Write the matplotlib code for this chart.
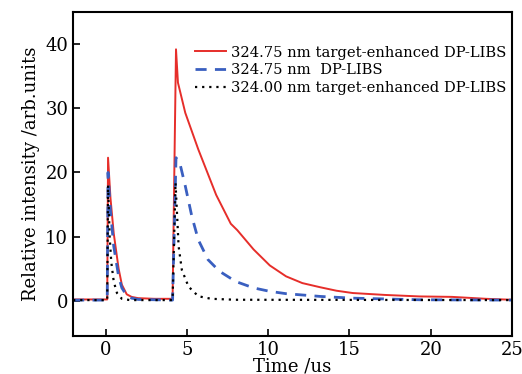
import matplotlib
matplotlib.use('Agg')
from matplotlib import pyplot as plt

# values
red_t = [-2, 0.1, 0.15, 0.3, 0.5, 0.8, 1.0, 1.3, 1.6, 2.0, 3.0, 4.12, 4.33, 4.45, 4.9, 5.7,
         6.8, 7.7, 8.1, 9.1, 10.1, 11.1, 12.1, 13.2, 14.2, 15.2, 17.2, 19.3, 21.3, 23.4, 25]
red_i = [0.2, 0.2, 22.3, 16.0, 10.5, 5.0, 2.5, 1.0, 0.6, 0.4, 0.3, 0.3, 39.2, 34.0, 29.3, 23.6,
         16.5, 12.0, 11.0, 8.0, 5.5, 3.8, 2.75, 2.1, 1.56, 1.2, 0.9, 0.67, 0.6, 0.3, 0.15]

blue_t = [-2, 0.1, 0.15, 0.3, 0.5, 0.8, 1.0, 1.3, 1.6, 2.0, 4.12, 4.33, 4.59, 4.9, 5.3, 5.7,
          6.3, 7.0, 8.0, 9.1, 10.1, 11.1, 13.2, 15.2, 19.3, 25]
blue_i = [0.1, 0.1, 20.0, 14.0, 8.5, 3.8, 2.0, 0.8, 0.4, 0.2, 0.1, 22.3, 21.2, 17.9, 13.2, 9.5,
          6.4, 4.6, 3.0, 2.0, 1.46, 1.1, 0.67, 0.4, 0.15, 0.1]

black_t = [-2, 0.1, 0.15, 0.25, 0.35, 0.5, 0.7, 1.0, 1.5, 4.12, 4.3, 4.39, 4.49, 4.69, 5.1,
           5.7, 6.5, 8.0, 25]
black_i = [0.1, 0.1, 18.0, 10.0, 6.0, 3.0, 1.2, 0.3, 0.1, 0.1, 18.4, 13.7, 8.5, 4.8, 2.2,
           0.7, 0.3, 0.15, 0.1]

labels = ['324.75 nm target-enhanced DP-LIBS',
          '324.75 nm  DP-LIBS',
          '324.00 nm target-enhanced DP-LIBS']

plt.rcParams['font.family'] = ['DejaVu Serif']

fig = plt.figure(figsize=(5.22, 3.74), dpi=100)
ax = fig.add_axes([0.140, 0.1016, 0.841, 0.866])

ax.plot(red_t, red_i, color='#e62e2a', lw=1.4, label=labels[0])
ax.plot(blue_t, blue_i, color='#3a5fc0', lw=2.0, dashes=(4, 3), label=labels[1])
ax.plot(black_t, black_i, color='black', lw=1.6, dashes=(1, 2.2), label=labels[2])

ax.set_xlim(-2, 25)
ax.set_ylim(-5.5, 45)
ax.set_xticks([0, 5, 10, 15, 20, 25])
ax.set_yticks([0, 10, 20, 30, 40])
ax.tick_params(direction='in', length=5, width=1.2, labelsize=13)
for s in ax.spines.values():
    s.set_linewidth(1.5)

ax.set_xlabel('Time /us', fontsize=13, labelpad=-1)
ax.set_ylabel('Relative intensity /arb.units', fontsize=13, labelpad=4)

ax.legend(loc='upper right', frameon=False, fontsize=10.6, handlelength=2.1,
          handletextpad=0.3, labelspacing=0.25, borderaxespad=0.0,
          bbox_to_anchor=(1.0, 0.915))

fig.savefig('out.png', dpi=100)
